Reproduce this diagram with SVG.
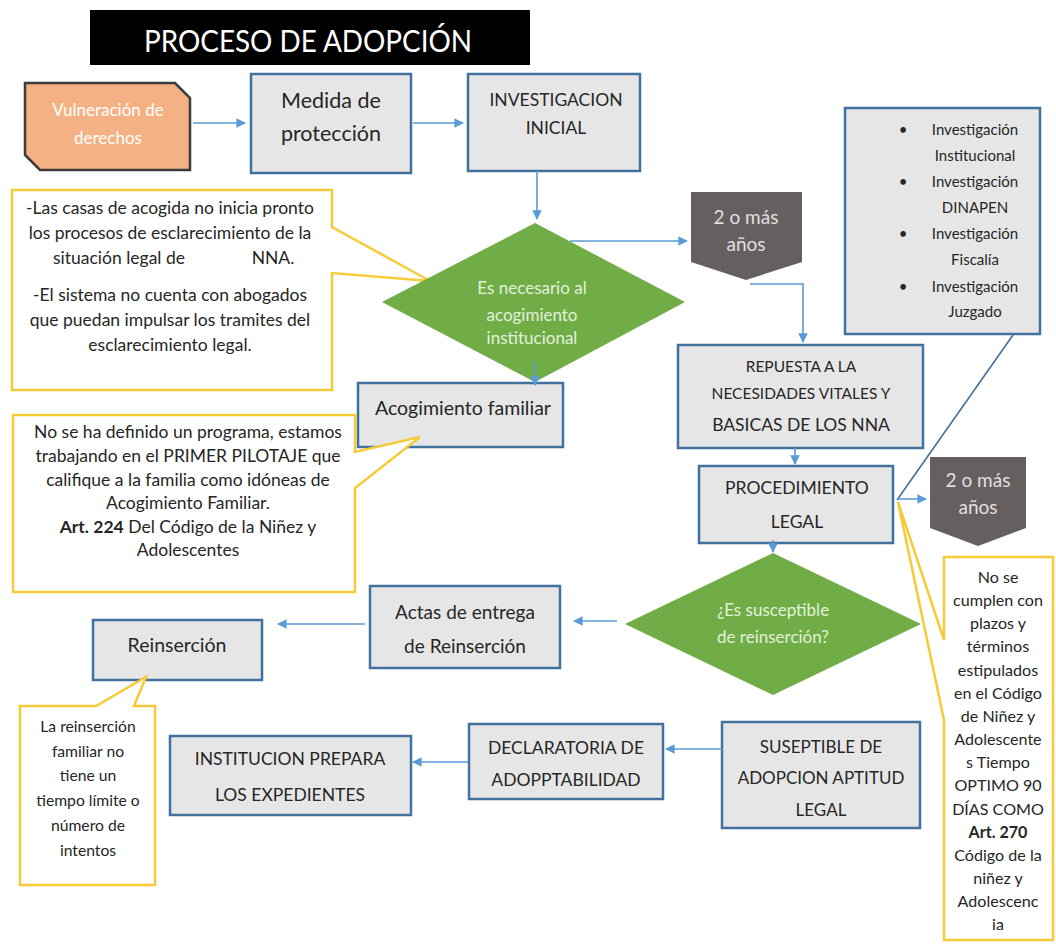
<svg xmlns="http://www.w3.org/2000/svg" width="1056" height="944" viewBox="0 0 1056 944">
<style>
text{font-family:Lato,"Liberation Sans","Noto Sans",sans-serif;text-anchor:middle}
.box{fill:#E7E6E6;stroke:#41719C;stroke-width:2.5}
.dia{fill:#70AD47}
.dt{fill:#E2F0D9;font-size:17px}
.pent{fill:#655F5F}
.pt{fill:#E0E0E0;font-size:19px}
.call{fill:#fff;stroke:#F5CB38;stroke-width:2.5;stroke-linejoin:miter}
.bt{fill:#262626}
.ct{fill:#262626;font-size:17.5px}
.ct3{fill:#262626;font-size:16.1px}
.ct4{fill:#262626;font-size:15.7px}
.con{fill:none;stroke:#5B9BD5;stroke-width:1.6}
</style>
<defs>
<marker id="ah" viewBox="0 0 10 10" refX="9" refY="5" markerWidth="6" markerHeight="6" orient="auto" markerUnits="strokeWidth">
<path d="M0,0 L10,5 L0,10 Z" fill="#5B9BD5"/>
</marker>
</defs>
<rect width="1056" height="944" fill="#fff"/>

<g id="title">
<rect x="90" y="10" width="440" height="55" fill="#000"/>
<text x="308" y="52" font-size="30" fill="#fff" textLength="328" lengthAdjust="spacingAndGlyphs">PROCESO DE ADOPCIÓN</text>
</g>

<g id="vulneracion">
<path d="M25,83 H175 L190,98 V170 H40 L25,155 Z" fill="#F4B183" stroke="#3B3B3B" stroke-width="2.5"/>
<text x="108" y="116" font-size="17" fill="#fff">Vulneración de</text>
<text x="108" y="144" font-size="17" fill="#fff">derechos</text>
</g>

<g id="medida">
<rect class="box" x="251" y="74" width="160" height="99"/>
<text class="bt" x="331" y="108" font-size="21.5">Medida de</text>
<text class="bt" x="331" y="141" font-size="21.5">protección</text>
</g>

<g id="investigacion">
<rect class="box" x="468" y="74" width="172" height="97"/>
<text class="bt" x="556" y="106" font-size="17.5">INVESTIGACION</text>
<text class="bt" x="556" y="134" font-size="17.5">INICIAL</text>
</g>

<g id="lista">
<line x1="1013" y1="335" x2="897" y2="500" stroke="#41719C" stroke-width="1.6"/>
<rect class="box" x="845" y="108" width="195" height="226"/>
<g class="bt" font-size="15">
<text x="903" y="135">•</text><text x="975" y="135">Investigación</text>
<text x="975" y="161">Institucional</text>
<text x="903" y="187">•</text><text x="975" y="187">Investigación</text>
<text x="975" y="213">DINAPEN</text>
<text x="903" y="239">•</text><text x="975" y="239">Investigación</text>
<text x="975" y="265">Fiscalía</text>
<text x="903" y="292">•</text><text x="975" y="292">Investigación</text>
<text x="975" y="317">Juzgado</text>
</g>
</g>

<g id="callout1">
<path class="call" d="M12,190 H332 V227 L430,281 L332,273 V390 H12 Z"/>
<text class="ct" x="170" y="214">-Las casas de acogida no inicia pronto</text>
<text class="ct" x="170" y="239">los procesos de esclarecimiento de la</text>
<text class="ct" y="264"><tspan x="119">situación legal de</tspan><tspan x="273">NNA.</tspan></text>
<text class="ct" x="170" y="301">-El sistema no cuenta con abogados</text>
<text class="ct" x="170" y="326">que puedan impulsar los tramites del</text>
<text class="ct" x="170" y="351">esclarecimiento legal.</text>
</g>

<g id="decision1">
<polygon class="dia" points="535,223 685,302 535,382 382,302"/>
<text class="dt" x="532" y="294">Es necesario al</text>
<text class="dt" x="532" y="321">acogimiento</text>
<text class="dt" x="532" y="344">institucional</text>
</g>

<g id="acogimiento">
<rect class="box" x="358" y="383" width="205" height="64"/>
<text class="bt" x="463" y="415" font-size="19.5">Acogimiento familiar</text>
</g>

<g id="callout2">
<path class="call" d="M13,415 H355 V452 L420,437 L355,488 V592 H13 Z"/>
<text class="ct" x="188" y="438">No se ha definido un programa, estamos</text>
<text class="ct" x="188" y="462">trabajando en el PRIMER PILOTAJE que</text>
<text class="ct" x="188" y="486">califique a la familia como idóneas de</text>
<text class="ct" x="188" y="509">Acogimiento Familiar.</text>
<text class="ct" x="188" y="533"><tspan font-weight="bold">Art. 224</tspan> Del Código de la Niñez y</text>
<text class="ct" x="188" y="556">Adolescentes</text>
</g>

<g id="anios1">
<path class="pent" d="M691,192 H802 V262 L746,280 L691,262 Z"/>
<text class="pt" x="746" y="224">2 o más</text>
<text class="pt" x="746" y="251">años</text>
</g>

<g id="repuesta">
<rect class="box" x="678" y="345" width="245" height="103"/>
<text class="bt" x="801" y="372" font-size="15.5">REPUESTA A LA</text>
<text class="bt" x="801" y="399" font-size="15.5">NECESIDADES VITALES Y</text>
<text class="bt" x="801" y="431" font-size="17.5">BASICAS DE LOS NNA</text>
</g>

<g id="procedimiento">
<rect class="box" x="699" y="466" width="194" height="77"/>
<text class="bt" x="797" y="494" font-size="17.5">PROCEDIMIENTO</text>
<text class="bt" x="797" y="528" font-size="17.5">LEGAL</text>
</g>

<g id="anios2">
<path class="pent" d="M930,457 H1026 V528 L978,546 L930,528 Z"/>
<text class="pt" x="978" y="487">2 o más</text>
<text class="pt" x="978" y="514">años</text>
</g>

<g id="callout3">
<path class="call" d="M944,557 H1053 V940 H944 V720 L898,502 L944,640 Z"/>
<g class="ct3">
<text x="998" y="583">No se</text>
<text x="998" y="606">cumplen con</text>
<text x="998" y="629">plazos y</text>
<text x="998" y="652">términos</text>
<text x="998" y="676">estipulados</text>
<text x="998" y="699">en el Código</text>
<text x="998" y="722">de Niñez y</text>
<text x="998" y="745">Adolescente</text>
<text x="998" y="768">s Tiempo</text>
<text x="998" y="791">OPTIMO 90</text>
<text x="998" y="815">DÍAS COMO</text>
<text x="998" y="838" font-weight="bold">Art. 270</text>
<text x="998" y="861">Código de la</text>
<text x="998" y="884">niñez y</text>
<text x="998" y="907">Adolescenc</text>
<text x="998" y="930">ia</text>
</g>
</g>

<g id="decision2">
<polygon class="dia" points="773,553 921,624 773,695 625,624"/>
<text class="dt" x="773" y="616">¿Es susceptible</text>
<text class="dt" x="773" y="643">de reinserción?</text>
</g>

<g id="actas">
<rect class="box" x="370" y="586" width="190" height="82"/>
<text class="bt" x="465" y="619" font-size="19">Actas de entrega</text>
<text class="bt" x="465" y="653" font-size="19">de Reinserción</text>
</g>

<g id="reinsercion">
<rect class="box" x="93" y="620" width="169" height="60"/>
<text class="bt" x="177" y="652" font-size="19.5">Reinserción</text>
</g>

<g id="callout4">
<path class="call" d="M20,706 H96 L146,677 L134,706 H155 V885 H20 Z"/>
<g class="ct4">
<text x="88" y="732">La reinserción</text>
<text x="88" y="757">familiar no</text>
<text x="88" y="781">tiene un</text>
<text x="88" y="806">tiempo límite o</text>
<text x="88" y="831">número de</text>
<text x="88" y="856">intentos</text>
</g>
</g>

<g id="institucion">
<rect class="box" x="170" y="736" width="241" height="79"/>
<text class="bt" x="290" y="765" font-size="17.5">INSTITUCION PREPARA</text>
<text class="bt" x="290" y="801" font-size="17.5">LOS EXPEDIENTES</text>
</g>

<g id="declaratoria">
<rect class="box" x="469" y="724" width="194" height="75"/>
<text class="bt" x="566" y="754" font-size="17.5">DECLARATORIA DE</text>
<text class="bt" x="566" y="786" font-size="17.5">ADOPPTABILIDAD</text>
</g>

<g id="suseptible">
<rect class="box" x="722" y="722" width="198" height="106"/>
<text class="bt" x="821" y="753" font-size="17">SUSEPTIBLE DE</text>
<text class="bt" x="821" y="784" font-size="17">ADOPCION APTITUD</text>
<text class="bt" x="821" y="816" font-size="17">LEGAL</text>
</g>

<g id="connectors">
<line class="con" x1="193" y1="123" x2="245" y2="123" marker-end="url(#ah)"/>
<line class="con" x1="413" y1="123" x2="463" y2="123" marker-end="url(#ah)"/>
<line class="con" x1="537" y1="171" x2="537" y2="219" marker-end="url(#ah)"/>
<line class="con" x1="570" y1="241" x2="687" y2="241" marker-end="url(#ah)"/>
<path class="con" d="M750,284 H803 V342" marker-end="url(#ah)"/>
<line class="con" x1="795" y1="448" x2="795" y2="464" marker-end="url(#ah)"/>
<line class="con" x1="897" y1="499" x2="926" y2="499" marker-end="url(#ah)"/>
<line class="con" x1="773" y1="540" x2="773" y2="552" marker-end="url(#ah)"/>
<line class="con" x1="617" y1="621" x2="574" y2="621" marker-end="url(#ah)"/>
<line class="con" x1="365" y1="624" x2="278" y2="624" marker-end="url(#ah)"/>
<line class="con" x1="722" y1="749" x2="666" y2="749" marker-end="url(#ah)"/>
<line class="con" x1="468" y1="762" x2="413" y2="762" marker-end="url(#ah)"/>
<line class="con" x1="535" y1="362" x2="535" y2="385" marker-end="url(#ah)"/>
</g>
</svg>
